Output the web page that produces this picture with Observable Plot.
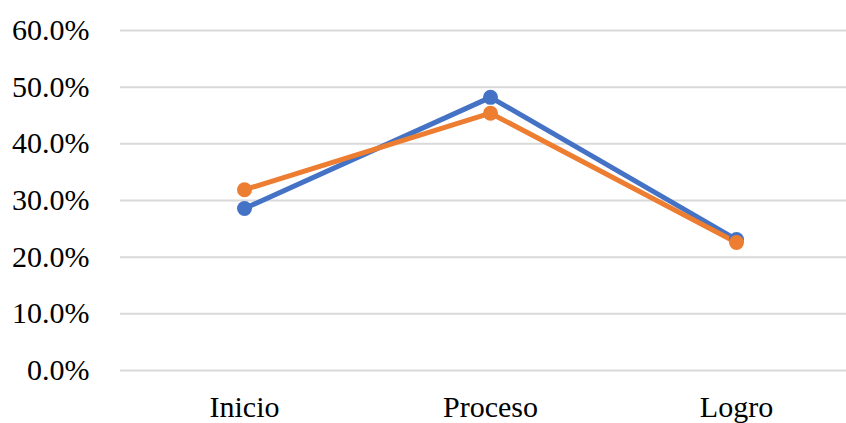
<!DOCTYPE html>
<html>
<head>
<meta charset="utf-8">
<script src="https://cdn.jsdelivr.net/npm/d3@7"></script>
<script src="https://cdn.jsdelivr.net/npm/@observablehq/plot@0.6"></script>
<style>
  html, body { margin: 0; padding: 0; background: #fff; }
</style>
</head>
<body>
<div id="chart"></div>
<script>
const categories = ["Inicio", "Proceso", "Logro"];
const seriesA = [0.286, 0.482, 0.231];
const seriesB = [0.319, 0.454, 0.226];
const yTicks = [0, 0.1, 0.2, 0.3, 0.4, 0.5, 0.6];

const data = [
  ...categories.map((c, i) => ({cat: c, value: seriesA[i], s: "A"})),
  ...categories.map((c, i) => ({cat: c, value: seriesB[i], s: "B"}))
];
const colors = {A: "#4472C4", B: "#ED7D31"};

const chart = Plot.plot({
  width: 846,
  height: 423,
  marginLeft: 120,
  marginRight: 0,
  marginTop: 30,
  marginBottom: 53,
  style: {fontFamily: "'Liberation Serif', 'Times New Roman', serif", fontSize: "30px", color: "#000", background: "#fff", overflow: "visible"},
  x: {type: "point", domain: categories, range: [243, 736], padding: 0, label: null},
  y: {domain: [0, 0.6], label: null},
  marks: [
    Plot.ruleY(yTicks, {stroke: "#d9d9d9", strokeWidth: 2}),
    Plot.axisY(yTicks, {tickSize: 0, tickPadding: 31, tickFormat: d => (d * 100).toFixed(1) + "%", fontSize: 30, label: null}),
    Plot.axisX({tickSize: 0, tickPadding: 25, fontSize: 30, label: null}),
    ...["A", "B"].map(s => Plot.line(data.filter(d => d.s === s), {x: "cat", y: "value", stroke: colors[s], strokeWidth: 5, strokeLinejoin: "round", strokeLinecap: "round"})),
    ...["A", "B"].map(s => Plot.dot(data.filter(d => d.s === s), {x: "cat", y: "value", fill: colors[s], r: 7.5}))
  ]
});
document.getElementById("chart").appendChild(chart);
</script>
</body>
</html>
